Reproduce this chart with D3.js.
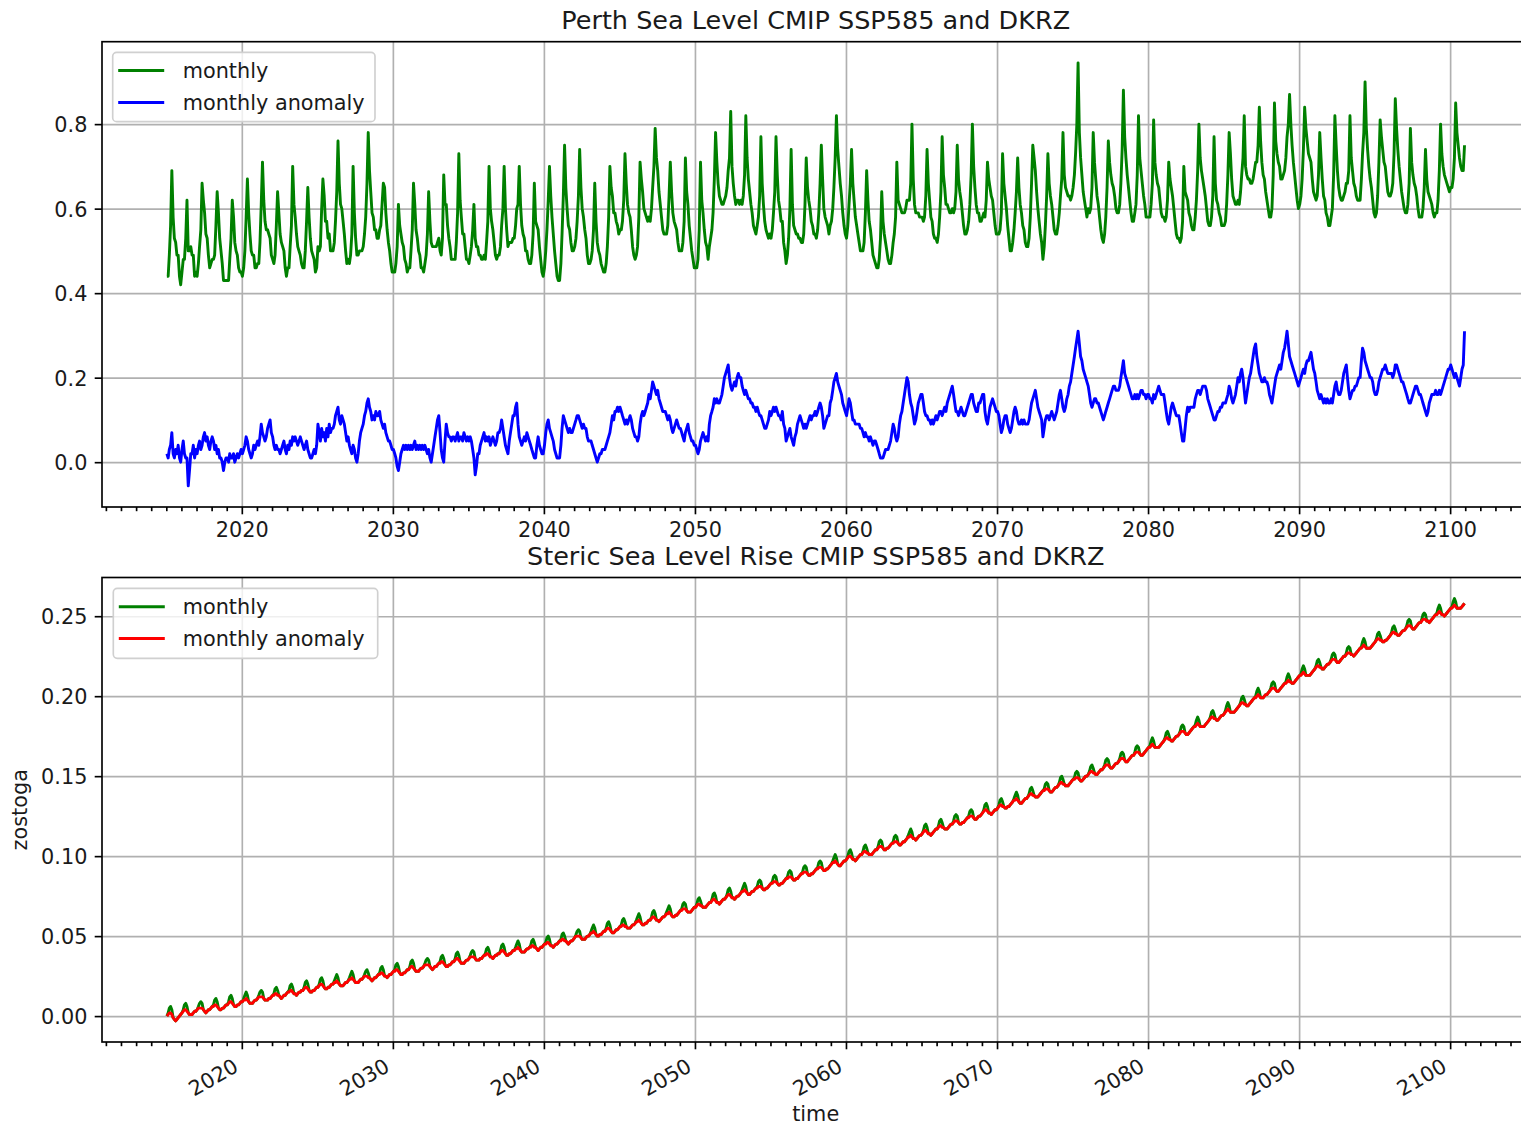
<!DOCTYPE html>
<html>
<head>
<meta charset="utf-8">
<script src="https://cdn.jsdelivr.net/npm/d3@7"></script>
<style>
  body { margin: 0; background: #ffffff; }
  text { font-family: "DejaVu Sans", "Liberation Sans", sans-serif; fill: #1a1a1a; }
</style>
</head>
<body>
<svg id="fig" width="1521" height="1128"></svg>
<script>
// ---- time span and tick labels ----
const firstYear = 2015;
const lastYear = 2100;
const decadeTicks = [2020, 2030, 2040, 2050, 2060, 2070, 2080, 2090, 2100];
const perthYTicks = [0.0, 0.2, 0.4, 0.6, 0.8];
const zostogaYTicks = [0.00, 0.05, 0.10, 0.15, 0.20, 0.25];

// ---- Perth sea level, monthly (cm), one row per year, Jan..Dec ----
const perthMonthly = [
  [44,44,49,56,69,58,53,52,49,49,44,42],
  [45,48,48,53,62,50,50,51,49,49,44,45],
  [44,47,51,55,66,62,59,54,53,49,46,47],
  [48,48,49,56,64,59,53,50,47,43,43,43],
  [43,43,48,53,62,58,52,50,49,46,45,45],
  [44,46,50,58,67,59,54,50,49,49,46,46],
  [47,47,52,61,71,62,57,55,55,54,53,49],
  [48,47,49,56,64,59,54,52,51,50,46,44],
  [46,46,51,56,70,61,58,54,51,50,49,47],
  [46,46,50,57,65,58,53,50,49,48,45,46],
  [51,50,51,60,67,63,57,57,53,54,50,50],
  [50,52,57,64,76,66,61,60,57,54,50,47],
  [48,47,49,54,70,59,53,49,49,50,50,50],
  [51,54,58,66,78,69,64,59,58,55,55,53],
  [53,55,56,61,66,65,59,55,52,50,47,45],
  [45,45,47,51,61,56,54,52,51,48,47,45],
  [46,46,50,55,66,61,55,53,50,49,46,46],
  [45,47,49,54,64,57,52,51,51,51,51,52],
  [53,50,49,53,68,61,61,56,53,51,48,48],
  [48,48,52,59,73,62,58,54,54,51,48,48],
  [47,49,51,55,61,53,51,51,49,49,48,48],
  [49,48,52,57,70,60,57,55,52,49,48,49],
  [49,51,56,60,70,60,55,51,52,52,52,53],
  [53,56,60,61,70,61,56,54,53,50,50,48],
  [47,47,49,54,66,57,56,55,51,48,45,44],
  [46,50,55,62,70,63,58,54,50,47,44,43],
  [43,47,54,63,75,65,60,56,55,52,50,50],
  [51,53,57,63,74,65,60,58,55,53,49,47],
  [47,48,50,55,66,57,52,50,49,47,46,45],
  [45,47,51,58,70,65,63,59,59,57,56,54],
  [55,55,57,62,73,66,61,59,58,55,51,49],
  [48,49,51,58,71,67,64,60,59,58,57,58],
  [57,60,65,70,79,72,69,64,61,58,55,54],
  [54,54,56,63,71,64,59,57,56,55,52,50],
  [50,50,52,57,72,64,61,56,53,50,48,46],
  [46,46,48,55,71,62,59,55,52,51,48,51],
  [53,55,59,67,78,71,66,63,62,61,61,62],
  [63,65,69,72,83,70,66,63,61,62,62,61],
  [62,61,63,68,82,72,67,64,61,59,56,55],
  [54,56,58,63,77,66,61,57,55,54,53,54],
  [53,55,59,64,77,68,62,60,57,57,52,50],
  [47,49,53,60,74,61,56,55,54,54,53,53],
  [52,52,54,61,72,65,62,60,57,56,54,54],
  [53,55,59,66,75,67,60,58,57,56,54,56],
  [57,60,65,72,82,74,70,66,63,59,56,54],
  [53,56,61,66,74,66,62,58,56,54,52,50],
  [50,50,52,59,69,62,57,55,52,49,48,47],
  [46,46,48,53,64,57,54,52,50,48,47,47],
  [49,52,54,58,71,62,61,60,59,59,59,60],
  [62,62,62,66,80,67,61,59,59,59,58,58],
  [58,57,58,63,74,66,62,58,57,54,53,53],
  [52,54,58,64,77,68,65,61,61,60,59,59],
  [60,59,60,64,75,67,64,62,59,56,54,54],
  [55,57,61,68,80,70,65,61,59,59,57,57],
  [58,59,58,62,71,67,65,63,62,59,56,54],
  [54,54,55,59,73,66,63,60,56,53,50,50],
  [52,55,59,64,72,65,61,59,56,55,52,51],
  [51,53,58,66,75,72,69,64,60,57,54,52],
  [48,51,56,63,73,66,63,61,58,55,54,54],
  [56,59,63,67,78,68,65,64,63,63,62,63],
  [65,68,73,80,94.5,78,72,68,64,62,60,58],
  [60,59,60,65,78,71,67,63,61,58,55,53],
  [52,54,58,65,76,71,68,66,65,63,60,59],
  [59,61,66,74,88,77,72,68,65,62,59,57],
  [57,59,61,68,82,72,69,66,63,61,58,58],
  [58,58,61,66,81,71,68,66,65,62,59,58],
  [58,57,58,62,71,67,65,63,60,57,54,53],
  [53,52,53,57,70,64,63,62,59,58,56,55],
  [55,58,62,69,80,72,69,67,65,63,60,57],
  [56,56,58,63,77,66,62,61,59,58,56,56],
  [56,57,61,68,78,73,67,63,62,61,61,62],
  [61,64,68,72,82,70,68,67,67,66,66,67],
  [69,71,71,75,84,76,71,68,67,64,62,60],
  [58,58,60,68,85,76,73,71,70,67,67,68],
  [69,72,77,80,87,80,75,71,68,65,62,60],
  [61,63,67,74,84,79,76,73,72,71,67,64],
  [63,62,63,68,78,72,67,63,62,59,58,56],
  [56,58,60,68,82,75,69,65,63,62,62,63],
  [64,66,66,69,82,72,69,66,65,63,62,62],
  [62,67,73,78,90,79,74,70,67,65,62,59],
  [58,59,63,71,81,77,74,71,70,67,64,63],
  [63,64,66,73,86,79,74,70,67,64,62,60],
  [59,59,61,66,79,71,68,66,65,63,60,58],
  [58,58,60,65,74,67,64,63,62,61,59,58],
  [59,59,62,69,80,73,70,68,67,66,65,64],
  [65,65,67,72,85,78,75,72,70,69,69,75]
];

// ---- Perth sea level, monthly anomaly (cm) ----
const perthAnomaly = [
  [2,1,3,4,7,2,1,3,2,4,1,0],
  [3,5,2,1,1,-5.6,-2,2,2,4,1,3],
  [2,4,5,3,4,6,7,5,6,4,3,5],
  [6,5,3,4,2,3,1,1,0,-2,0,1],
  [1,0,2,1,1,2,0,1,2,1,2,3],
  [2,3,4,6,5,3,2,1,2,4,3,4],
  [5,4,6,9,7,6,5,6,8,9,10,7],
  [6,4,3,4,3,3,2,3,4,5,3,2],
  [4,3,5,4,6,5,6,5,4,5,6,5],
  [4,3,4,5,3,2,1,1,2,3,2,4],
  [9,7,5,8,6,7,5,8,6,9,7,8],
  [8,9,11,12,13,10,9,11,10,9,7,5],
  [6,4,3,2,4,3,1,0,2,5,7,8],
  [9,11,12,14,15,13,12,10,11,10,12,11],
  [11,12,10,9,8,9,7,6,5,5,4,3],
  [3,2,1,-1,-2,0,2,3,4,3,4,3],
  [4,3,4,3,4,5,3,4,3,4,3,4],
  [3,4,3,2,3,1,0,2,4,6,8,10],
  [11,7,3,1,0,5,9,7,6,6,5,6],
  [6,5,6,7,5,6,6,5,7,6,5,6],
  [5,6,5,3,1,-3,-1,2,2,4,5,6],
  [7,5,6,5,6,4,5,6,5,4,5,7],
  [7,8,10,8,6,4,3,2,5,7,9,11],
  [11,13,14,9,6,5,4,5,6,5,7,6],
  [5,4,3,2,1,1,4,6,4,3,2,2],
  [4,7,9,10,8,7,6,5,3,2,1,1],
  [1,4,8,11,10,9,8,7,8,7,7,8],
  [9,10,11,11,10,9,8,9,8,8,6,5],
  [5,5,4,3,2,1,0,1,2,2,3,3],
  [3,4,5,6,7,9,11,10,12,12,13,12],
  [13,12,11,10,9,10,9,10,11,10,8,7],
  [6,6,5,6,9,11,12,11,12,13,14,16],
  [15,17,19,18,17,16,17,15,14,13,12,12],
  [12,11,10,11,10,8,7,8,9,10,9,8],
  [8,7,6,5,7,8,9,7,6,5,5,4],
  [4,3,2,3,5,6,7,6,5,6,5,9],
  [11,12,13,15,14,15,14,14,15,16,18,20],
  [21,22,23,20,18,17,18,19,18,20,21,20],
  [20,18,17,16,17,16,15,15,14,14,13,13],
  [12,13,12,11,11,10,9,8,8,9,10,12],
  [11,12,13,12,13,12,11,11,10,12,9,8],
  [5,6,7,8,6,5,4,6,7,9,10,11],
  [10,9,8,9,8,9,10,11,10,11,11,12],
  [11,12,13,14,13,11,8,9,10,11,11,14],
  [15,17,19,20,21,19,18,17,16,14,13,12],
  [11,13,15,14,12,10,10,9,9,9,9,8],
  [8,7,6,7,6,6,5,6,5,4,5,5],
  [4,3,2,1,1,1,2,3,3,3,4,5],
  [7,9,8,6,5,6,9,11,12,14,16,18],
  [20,19,16,14,13,11,9,10,12,14,15,16],
  [16,14,12,11,11,10,10,9,10,9,10,11],
  [10,11,12,12,11,12,13,12,14,15,16,17],
  [18,16,14,12,12,11,12,13,12,11,11,12],
  [13,14,15,16,16,14,13,12,12,14,14,15],
  [16,16,12,10,9,11,13,14,15,14,13,12],
  [12,11,9,7,8,10,11,11,9,8,7,8],
  [10,12,13,12,10,9,9,10,9,10,9,9],
  [9,10,12,14,15,16,17,15,13,12,11,10],
  [6,8,10,11,11,10,11,12,11,10,11,12],
  [14,16,17,15,13,12,13,15,16,18,19,21],
  [23,25,27,29,31,28,25,24,22,21,20,19],
  [18,16,14,13,14,15,15,14,14,13,12,11],
  [10,11,12,13,14,15,16,17,18,18,17,17],
  [17,18,20,22,24,21,20,19,18,17,16,15],
  [15,16,15,16,15,16,17,17,16,16,15,16],
  [16,15,15,14,16,15,16,17,18,17,16,16],
  [16,14,12,10,9,11,13,14,13,12,11,11],
  [11,9,7,5,5,8,11,13,12,13,13,13],
  [13,15,16,17,17,16,17,18,18,18,17,15],
  [14,13,12,11,10,10,11,12,12,13,13,14],
  [14,14,15,16,18,17,15,14,15,16,18,20],
  [19,21,22,20,17,14,16,18,20,21,23,25],
  [27,28,25,23,21,20,19,19,20,19,19,18],
  [16,15,14,16,18,20,21,22,23,22,24,26],
  [27,29,31,28,25,24,23,22,21,20,19,18],
  [19,20,21,22,21,23,24,24,25,26,24,22],
  [21,19,17,16,15,16,15,14,15,14,15,14],
  [14,15,14,16,18,19,17,16,16,17,19,21],
  [22,23,20,17,15,16,17,17,18,18,19,20],
  [20,24,27,26,24,23,22,21,20,20,19,17],
  [16,16,17,19,20,21,22,22,23,22,21,21],
  [21,21,20,21,23,23,22,21,20,19,19,18],
  [17,16,15,14,14,15,16,17,18,18,17,16],
  [16,15,14,13,12,11,12,14,15,16,16,16],
  [17,16,16,17,16,17,18,19,20,21,22,22],
  [23,22,21,20,21,20,19,18,20,22,23,31]
];

// ---- global steric sea level (zostoga), monthly (mm) ----
const zostogaMonthly = [
  [0,2,5,6,4,-1,-2,-3,-2,-1,0,1],
  [2,4,7,8,6,2,1,1,1,2,3,3],
  [4,6,8,9,8,4,3,2,3,4,4,5],
  [6,7,10,11,9,5,4,4,5,5,6,7],
  [7,9,12,13,11,7,6,6,7,7,8,9],
  [9,11,13,15,13,9,8,8,8,9,10,10],
  [11,13,15,16,15,11,10,10,10,11,11,12],
  [13,14,17,18,16,13,12,11,12,13,13,14],
  [15,16,19,20,18,14,14,13,14,15,15,16],
  [16,18,21,22,20,16,15,15,16,16,17,18],
  [18,20,23,24,22,18,17,17,18,18,19,20],
  [20,22,24,26,24,20,19,19,19,20,21,21],
  [22,24,26,28,26,22,21,21,21,22,23,23],
  [24,26,28,29,27,24,23,22,23,24,24,25],
  [26,27,30,31,29,25,25,24,25,26,26,27],
  [28,29,32,33,31,27,26,26,27,27,28,29],
  [29,31,34,35,33,29,28,28,28,29,30,30],
  [31,33,35,36,35,31,30,29,30,31,31,32],
  [33,34,37,38,36,32,31,31,32,32,33,34],
  [34,36,39,40,38,34,33,33,33,34,35,35],
  [36,38,40,41,40,36,35,35,35,36,36,37],
  [38,39,42,43,41,37,37,36,37,38,38,39],
  [39,41,44,45,43,39,38,38,39,39,40,41],
  [41,43,45,47,45,41,40,40,40,41,42,42],
  [43,44,47,48,46,43,42,41,42,43,43,44],
  [45,46,49,50,48,44,44,43,44,45,45,46],
  [47,48,51,52,50,47,46,45,46,47,47,48],
  [49,51,53,54,53,49,48,48,48,49,50,50],
  [51,53,55,57,55,51,50,50,51,51,52,53],
  [53,55,58,59,57,53,52,52,53,54,54,55],
  [56,57,60,61,59,56,55,55,55,56,57,57],
  [58,60,62,64,62,58,57,57,58,58,59,60],
  [60,62,65,66,64,60,60,59,60,61,62,62],
  [63,65,67,69,67,63,62,62,63,63,64,65],
  [66,67,70,71,70,66,65,65,65,66,67,68],
  [68,70,73,74,72,69,68,68,68,69,70,71],
  [71,73,76,77,75,71,71,70,71,72,73,73],
  [74,76,79,80,78,74,74,73,74,75,75,76],
  [77,79,81,83,81,77,76,76,77,78,78,79],
  [80,81,84,85,84,80,79,79,80,80,81,82],
  [83,84,87,88,87,83,82,82,83,83,84,85],
  [86,87,90,91,90,86,85,85,86,86,87,88],
  [89,90,93,94,93,89,88,88,89,89,90,91],
  [92,93,96,97,96,92,91,91,92,92,93,94],
  [95,97,99,101,99,95,94,94,95,96,97,97],
  [98,100,103,104,102,98,98,97,98,99,100,101],
  [101,103,106,107,105,102,101,101,101,102,103,104],
  [104,106,109,110,109,105,104,104,105,105,106,107],
  [108,109,112,113,112,108,107,107,108,109,109,110],
  [111,113,115,117,115,111,111,110,111,112,113,113],
  [114,116,119,120,118,114,114,113,114,115,116,117],
  [117,119,122,123,121,118,117,117,117,118,119,120],
  [120,122,125,126,125,121,120,120,121,121,122,123],
  [124,125,128,129,128,124,123,123,124,125,125,126],
  [127,129,132,133,131,127,127,126,127,128,129,129],
  [130,132,135,136,134,131,130,130,131,131,132,133],
  [134,136,138,140,138,134,133,133,134,135,136,136],
  [137,139,142,143,141,138,137,137,137,138,139,140],
  [141,142,145,146,145,141,140,140,141,142,143,143],
  [144,146,149,150,148,145,144,144,144,145,146,147],
  [148,149,152,153,152,148,147,147,148,149,150,150],
  [151,153,156,157,155,152,151,151,152,153,154,154],
  [155,157,160,161,160,156,155,155,156,157,158,158],
  [159,161,164,165,164,160,159,159,160,161,162,163],
  [163,165,168,169,168,164,163,163,164,165,166,167],
  [168,169,172,174,172,168,168,168,168,169,170,171],
  [172,174,177,178,176,173,172,172,173,174,175,175],
  [176,178,181,182,181,177,176,176,177,178,179,180],
  [181,182,185,187,185,181,181,181,181,182,183,184],
  [185,187,190,191,189,186,185,185,186,187,188,188],
  [189,191,194,196,194,190,190,190,190,191,192,193],
  [194,196,199,200,198,195,194,194,195,196,197,198],
  [199,200,203,205,203,199,199,199,200,201,201,202],
  [203,205,208,209,208,204,203,203,204,205,206,207],
  [208,209,212,214,212,209,208,208,209,210,211,212],
  [213,214,217,219,217,213,213,213,213,214,215,216],
  [217,219,222,223,221,218,217,217,218,219,220,220],
  [221,223,226,227,226,222,221,221,222,223,224,225],
  [225,227,230,231,230,226,226,225,226,227,228,229],
  [230,231,234,236,234,230,230,230,230,231,232,233],
  [234,236,239,240,238,235,234,234,235,235,236,237],
  [238,240,243,244,242,239,238,238,239,240,241,241],
  [242,244,247,248,247,243,242,242,243,244,245,246],
  [246,248,251,252,251,247,247,246,247,248,249,250],
  [251,252,255,257,255,251,251,250,251,252,253,254],
  [255,256,259,261,259,255,255,255,255,256,257,258]
];

// ---- global steric sea level (zostoga), monthly anomaly (mm) ----
const zostogaAnomaly = [
  [0,1,2,2,1,-1,-2,-3,-2,-1,0,1],
  [2,3,4,4,3,2,1,1,1,2,3,3],
  [4,5,5,5,5,4,3,2,3,4,4,5],
  [6,6,7,7,6,5,4,4,5,5,6,7],
  [7,8,9,9,8,7,6,6,7,7,8,9],
  [9,10,10,11,10,9,8,8,8,9,10,10],
  [11,12,12,12,12,11,10,10,10,11,11,12],
  [13,13,14,14,13,13,12,11,12,13,13,14],
  [15,15,16,16,15,14,14,13,14,15,15,16],
  [16,17,18,18,17,16,15,15,16,16,17,18],
  [18,19,20,20,19,18,17,17,18,18,19,20],
  [20,21,21,22,21,20,19,19,19,20,21,21],
  [22,23,23,24,23,22,21,21,21,22,23,23],
  [24,25,25,25,24,24,23,22,23,24,24,25],
  [26,26,27,27,26,25,25,24,25,26,26,27],
  [28,28,29,29,28,27,26,26,27,27,28,29],
  [29,30,31,31,30,29,28,28,28,29,30,30],
  [31,32,32,32,32,31,30,29,30,31,31,32],
  [33,33,34,34,33,32,31,31,32,32,33,34],
  [34,35,36,36,35,34,33,33,33,34,35,35],
  [36,37,37,37,37,36,35,35,35,36,36,37],
  [38,38,39,39,38,37,37,36,37,38,38,39],
  [39,40,41,41,40,39,38,38,39,39,40,41],
  [41,42,42,43,42,41,40,40,40,41,42,42],
  [43,43,44,44,43,43,42,41,42,43,43,44],
  [45,45,46,46,45,44,44,43,44,45,45,46],
  [47,47,48,48,47,47,46,45,46,47,47,48],
  [49,50,50,50,50,49,48,48,48,49,50,50],
  [51,52,52,53,52,51,50,50,51,51,52,53],
  [53,54,55,55,54,53,52,52,53,54,54,55],
  [56,56,57,57,56,56,55,55,55,56,57,57],
  [58,59,59,60,59,58,57,57,58,58,59,60],
  [60,61,62,62,61,60,60,59,60,61,62,62],
  [63,64,64,65,64,63,62,62,63,63,64,65],
  [66,66,67,67,67,66,65,65,65,66,67,68],
  [68,69,70,70,69,69,68,68,68,69,70,71],
  [71,72,73,73,72,71,71,70,71,72,73,73],
  [74,75,76,76,75,74,74,73,74,75,75,76],
  [77,78,78,79,78,77,76,76,77,78,78,79],
  [80,80,81,81,81,80,79,79,80,80,81,82],
  [83,83,84,84,84,83,82,82,83,83,84,85],
  [86,86,87,87,87,86,85,85,86,86,87,88],
  [89,89,90,90,90,89,88,88,89,89,90,91],
  [92,92,93,93,93,92,91,91,92,92,93,94],
  [95,96,96,97,96,95,94,94,95,96,97,97],
  [98,99,100,100,99,98,98,97,98,99,100,101],
  [101,102,103,103,102,102,101,101,101,102,103,104],
  [104,105,106,106,106,105,104,104,105,105,106,107],
  [108,108,109,109,109,108,107,107,108,109,109,110],
  [111,112,112,113,112,111,111,110,111,112,113,113],
  [114,115,116,116,115,114,114,113,114,115,116,117],
  [117,118,119,119,118,118,117,117,117,118,119,120],
  [120,121,122,122,122,121,120,120,121,121,122,123],
  [124,124,125,125,125,124,123,123,124,125,125,126],
  [127,128,129,129,128,127,127,126,127,128,129,129],
  [130,131,132,132,131,131,130,130,131,131,132,133],
  [134,135,135,136,135,134,133,133,134,135,136,136],
  [137,138,139,139,138,138,137,137,137,138,139,140],
  [141,141,142,142,142,141,140,140,141,142,143,143],
  [144,145,146,146,145,145,144,144,144,145,146,147],
  [148,148,149,149,149,148,147,147,148,149,150,150],
  [151,152,153,153,152,152,151,151,152,153,154,154],
  [155,156,157,157,157,156,155,155,156,157,158,158],
  [159,160,161,161,161,160,159,159,160,161,162,163],
  [163,164,165,165,165,164,163,163,164,165,166,167],
  [168,168,169,170,169,168,168,168,168,169,170,171],
  [172,173,174,174,173,173,172,172,173,174,175,175],
  [176,177,178,178,178,177,176,176,177,178,179,180],
  [181,181,182,183,182,181,181,181,181,182,183,184],
  [185,186,187,187,186,186,185,185,186,187,188,188],
  [189,190,191,192,191,190,190,190,190,191,192,193],
  [194,195,196,196,195,195,194,194,195,196,197,198],
  [199,199,200,201,200,199,199,199,200,201,201,202],
  [203,204,205,205,205,204,203,203,204,205,206,207],
  [208,208,209,210,209,209,208,208,209,210,211,212],
  [213,213,214,215,214,213,213,213,213,214,215,216],
  [217,218,219,219,218,218,217,217,218,219,220,220],
  [221,222,223,223,223,222,221,221,222,223,224,225],
  [225,226,227,227,227,226,226,225,226,227,228,229],
  [230,230,231,232,231,230,230,230,230,231,232,233],
  [234,235,236,236,235,235,234,234,235,235,236,237],
  [238,239,240,240,239,239,238,238,239,240,241,241],
  [242,243,244,244,244,243,242,242,243,244,245,246],
  [246,247,248,248,248,247,247,246,247,248,249,250],
  [251,251,252,253,252,251,251,250,251,252,253,254],
  [255,255,256,257,256,255,255,255,255,256,257,258]
];

// ---- figure ----
const FS = 20.8;          // tick / legend / label text
const TITLE_FS = 25.5;
const TICK = 7.3, MINOR = 4.2, PAD = 7.3, LW = 1.66, LINE_W = 2.9;
const AX_LEFT = 102, AX_RIGHT = 1529.4;

const svg = d3.select("#fig");

// mid-month time stamps for each value
const months = [];
for (let yr = firstYear; yr <= lastYear; yr++)
  for (let m = 0; m < 12; m++) months.push(new Date(Date.UTC(yr, m, 15)));

const toSeries = (rows, unit) => rows.flat().map((v, i) => ({ t: months[i], v: v / unit }));

const t0 = months[0], t1 = months[months.length - 1];
const span = t1 - t0;
const x = d3.scaleUtc()
  .domain([new Date(+t0 - 0.05 * span), new Date(+t1 + 0.05 * span)])
  .range([AX_LEFT, AX_RIGHT]);
const decadeDates = decadeTicks.map(yr => new Date(Date.UTC(yr, 0, 1)));
const minorDates = d3.utcYears(x.domain()[0], x.domain()[1]).filter(d => d.getUTCFullYear() % 10 !== 0);

const panels = [
  {
    top: 41.7, bottom: 507,
    title: "Perth Sea Level CMIP SSP585 and DKRZ",
    series: [
      { name: "monthly", color: "green", data: toSeries(perthMonthly, 100) },
      { name: "monthly anomaly", color: "blue", data: toSeries(perthAnomaly, 100) }
    ],
    yTicks: perthYTicks, fmt: d3.format(".1f"), rotate: false,
    legend: { x: 112.7, y: 52.3, w: 262.3, h: 69.4, rows: [70.5, 102.5] }
  },
  {
    top: 577.5, bottom: 1042,
    title: "Steric Sea Level Rise CMIP SSP585 and DKRZ",
    series: [
      { name: "monthly", color: "green", data: toSeries(zostogaMonthly, 1000) },
      { name: "monthly anomaly", color: "red", data: toSeries(zostogaAnomaly, 1000) }
    ],
    yTicks: zostogaYTicks, fmt: d3.format(".2f"), rotate: true,
    legend: { x: 113.3, y: 588.3, w: 264.4, h: 70, rows: [606.7, 638.5] },
    ylabel: "zostoga", xlabel: "time"
  }
];

panels.forEach((p, pi) => {
  const all = p.series.flatMap(s => s.data.map(d => d.v));
  const [lo, hi] = d3.extent(all);
  const padY = 0.05 * (hi - lo);
  const y = d3.scaleLinear().domain([lo - padY, hi + padY]).range([p.bottom, p.top]);
  const g = svg.append("g");

  // grid
  const gx = g.append("g").attr("transform", `translate(0,${p.bottom})`)
    .call(d3.axisBottom(x).tickValues(decadeDates).tickSize(-(p.bottom - p.top)).tickFormat(""));
  const gy = g.append("g").attr("transform", `translate(${AX_LEFT},0)`)
    .call(d3.axisLeft(y).tickValues(p.yTicks).tickSize(-(AX_RIGHT - AX_LEFT)).tickFormat(""));
  [gx, gy].forEach(a => {
    a.select(".domain").remove();
    a.selectAll("line").attr("stroke", "#b0b0b0").attr("stroke-width", LW);
  });

  // data lines
  const clipId = "clip" + pi;
  svg.append("clipPath").attr("id", clipId).append("rect")
    .attr("x", AX_LEFT).attr("y", p.top).attr("width", AX_RIGHT - AX_LEFT).attr("height", p.bottom - p.top);
  const line = d3.line().x(d => x(d.t)).y(d => y(d.v));
  p.series.forEach(s => {
    g.append("path").datum(s.data)
      .attr("clip-path", `url(#${clipId})`)
      .attr("fill", "none").attr("stroke", s.color)
      .attr("stroke-width", LINE_W).attr("stroke-linejoin", "round")
      .attr("d", line);
  });

  // spines
  g.append("rect").attr("x", AX_LEFT).attr("y", p.top)
    .attr("width", AX_RIGHT - AX_LEFT).attr("height", p.bottom - p.top)
    .attr("fill", "none").attr("stroke", "#000").attr("stroke-width", LW);

  // x axis: minor yearly ticks and labelled decades
  const gMinor = g.append("g").attr("transform", `translate(0,${p.bottom})`)
    .call(d3.axisBottom(x).tickValues(minorDates).tickSize(MINOR).tickFormat(""));
  const gMajor = g.append("g").attr("transform", `translate(0,${p.bottom})`)
    .call(d3.axisBottom(x).tickValues(decadeDates).tickSize(TICK).tickPadding(PAD).tickFormat(d3.utcFormat("%Y")));
  const gLeft = g.append("g").attr("transform", `translate(${AX_LEFT},0)`)
    .call(d3.axisLeft(y).tickValues(p.yTicks).tickSize(TICK).tickPadding(PAD).tickFormat(p.fmt));
  [gMinor, gMajor, gLeft].forEach(a => {
    a.select(".domain").remove();
    a.attr("font-size", FS).attr("font-family", null);
    a.selectAll("line").attr("stroke", "#000").attr("stroke-width", LW);
    a.selectAll("text").attr("fill", "#1a1a1a");
  });
  gLeft.selectAll("text").attr("dy", "0.36em");
  if (p.rotate) {
    gMajor.selectAll("text")
      .attr("text-anchor", "end")
      .attr("x", 0).attr("dy", null)
      .attr("y", 0.76 * FS)
      .attr("transform", `translate(${-FS / 2},${TICK + PAD}) rotate(-30)`);
  } else {
    gMajor.selectAll("text").attr("dy", "0.76em");
  }

  // title
  svg.append("text").attr("x", (AX_LEFT + AX_RIGHT) / 2).attr("y", p.top - 12.5)
    .attr("text-anchor", "middle").attr("font-size", TITLE_FS).text(p.title);

  if (p.ylabel) {
    svg.append("text").attr("transform", `translate(27,${(p.top + p.bottom) / 2}) rotate(-90)`)
      .attr("text-anchor", "middle").attr("font-size", FS).text(p.ylabel);
  }
  if (p.xlabel) {
    svg.append("text").attr("x", (AX_LEFT + AX_RIGHT) / 2).attr("y", 1121)
      .attr("text-anchor", "middle").attr("font-size", FS).text(p.xlabel);
  }

  // legend
  const L = p.legend;
  const lg = svg.append("g");
  lg.append("rect").attr("x", L.x).attr("y", L.y).attr("width", L.w).attr("height", L.h)
    .attr("rx", 4).attr("fill", "#fff").attr("fill-opacity", 0.8)
    .attr("stroke", "#d0d0d0").attr("stroke-width", LW);
  p.series.forEach((s, i) => {
    lg.append("line").attr("x1", L.x + 5.5).attr("x2", L.x + 51.5)
      .attr("y1", L.rows[i]).attr("y2", L.rows[i])
      .attr("stroke", s.color).attr("stroke-width", LINE_W);
    lg.append("text").attr("x", 182.7).attr("y", L.rows[i]).attr("dy", "0.35em")
      .attr("font-size", FS).text(s.name);
  });
});
</script>
</body>
</html>
